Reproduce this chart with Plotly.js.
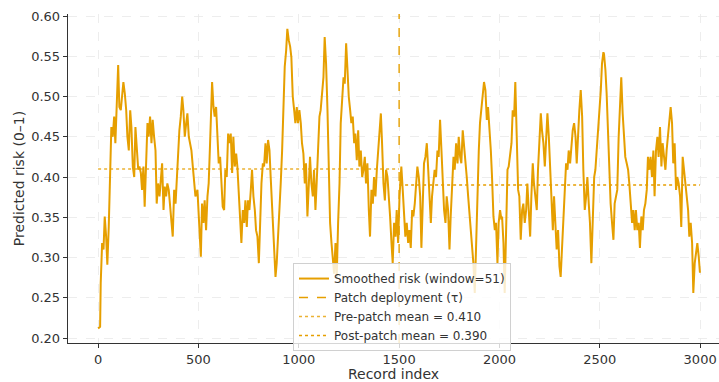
<!DOCTYPE html>
<html>
<head>
<meta charset="utf-8">
<script src="https://cdn.plot.ly/plotly-3.0.1.min.js"></script>
<style>html,body{margin:0;padding:0;background:#fff;}#chart{width:719px;height:382px;}</style>
</head>
<body>
<div id="chart"></div>
<script>
const recordIndex = [0,10,13,20,27,33,40,46,53,60,66,73,80,86,93,100,103,106,113,120,126,133,140,146,153,160,166,173,180,186,193,200,206,213,219,226,232,239,246,252,259,266,272,279,286,292,299,306,312,319,326,332,339,345,352,359,366,372,379,386,392,399,405,412,419,425,432,439,445,452,459,465,472,478,485,
495,502,508,512,518,525,531,538,545,551,558,565,568,575,581,588,595,601,608,614,621,628,634,641,648,654,661,668,674,681,688,694,701,708,714,721,728,734,741,747,754,761,767,774,781,787,794,801,807,814,821,827,834,840,847,854,860,867,874,880,884,890,897,904,910,917,924,930,937,943,950,957,963,970,977,983,990,
996,1003,1010,1016,1023,1030,1036,1043,1050,1056,1063,1070,1076,1083,1089,1096,1103,1109,1116,1123,1129,1136,1143,1149,1156,1163,1169,1176,1183,1189,1196,1203,1209,1216,1223,1229,1236,1242,1249,1256,1262,1269,1276,1282,1289,1296,1302,1309,1316,1322,1329,1335,1342,1349,1355,1362,1369,1375,1382,1389,1395,1402,1409,1415,1422,1429,1435,1442,1449,1455,1462,1468,1475,1482,1488,1495,1502,
1511,1518,1525,1531,1538,1545,1551,1558,1565,1571,1578,1585,1591,1598,1605,1611,1618,1624,1631,1638,1645,1651,1658,1664,1671,1677,1684,1691,1697,1704,1711,1717,1724,1731,1737,1744,1751,1757,1764,1771,1777,1784,1791,1797,1804,1810,1817,1824,1830,1837,1844,1850,1857,1864,1870,1877,1883,1890,1897,1903,1910,1917,1923,1930,1937,1943,1950,1957,1963,1970,1977,1983,1990,1996,2003,2010,
2013,2020,2026,2033,2040,2046,2053,2060,2066,2073,2079,2086,2093,2099,2106,2113,2119,2126,2133,2139,2146,2153,2159,2166,2172,2179,2186,2192,2199,2206,2212,2219,2226,2232,2239,2246,2252,2259,2266,2272,2279,2285,2292,2299,2305,2312,2319,2325,2332,2339,2345,2352,2359,2365,2372,2379,2385,2392,2398,2405,2412,2418,2425,2432,2438,2445,2451,2458,2465,2472,2478,2485,2491,2498,2505,2511,2518,
2521,2528,2534,2541,2548,2554,2561,2568,2574,2581,2587,2594,2601,2607,2614,2621,2627,2634,2641,2647,2654,2661,2667,2674,2680,2687,2694,2700,2707,2714,2720,2727,2734,2740,2747,2753,2760,2767,2773,2780,2787,2793,2800,2807,2813,2820,2827,2833,2840,2847,2853,2860,2866,2873,2880,2886,2893,2900,2906,2913,2920,2926,2933,2940,2946,2953,2960,2966,2973,2980,2986,2993,2999];

const smoothedRisk = [0.212,0.214,0.268,0.318,0.310,0.351,0.326,0.291,0.338,0.392,0.462,0.450,0.475,0.442,0.483,0.539,0.512,0.487,0.483,0.500,0.518,0.504,0.483,0.450,0.433,0.483,0.462,0.413,0.400,0.462,0.433,0.409,0.413,0.405,0.384,0.413,0.363,0.433,0.467,0.450,0.475,0.442,0.471,0.450,0.433,0.367,0.392,0.376,0.400,0.417,0.359,0.388,0.376,0.392,0.384,0.367,0.343,0.326,0.384,0.367,0.400,0.438,0.458,0.475,0.500,0.483,0.450,0.467,0.479,0.450,0.442,0.433,0.413,0.392,0.376,
0.384,0.343,0.318,0.301,0.367,0.343,0.371,0.334,0.376,0.392,0.442,0.483,0.518,0.487,0.475,0.487,0.450,0.417,0.425,0.392,0.363,0.359,0.409,0.400,0.454,0.442,0.454,0.405,0.450,0.413,0.429,0.413,0.380,0.351,0.318,0.359,0.343,0.371,0.338,0.371,0.359,0.384,0.409,0.376,0.359,0.334,0.326,0.293,0.343,0.392,0.417,0.413,0.442,0.417,0.446,0.433,0.400,0.359,0.326,0.285,0.276,0.293,0.326,0.351,0.392,0.433,0.483,0.537,0.557,0.584,0.570,0.562,0.549,0.500,0.483,0.467,0.487,
0.467,0.483,0.467,0.442,0.429,0.392,0.417,0.351,0.400,0.425,0.392,0.376,0.409,0.359,0.392,0.433,0.475,0.483,0.500,0.524,0.574,0.541,0.483,0.417,0.343,0.318,0.301,0.280,0.318,0.275,0.343,0.392,0.467,0.500,0.524,0.516,0.566,0.537,0.500,0.483,0.467,0.475,0.442,0.454,0.421,0.458,0.413,0.433,0.400,0.409,0.425,0.392,0.417,0.359,0.326,0.384,0.367,0.400,0.376,0.409,0.433,0.458,0.479,0.442,0.392,0.371,0.409,0.400,0.376,0.351,0.318,0.293,0.343,0.326,0.359,0.318,0.376,
0.413,0.384,0.359,0.326,0.343,0.318,0.334,0.312,0.359,0.351,0.367,0.392,0.413,0.400,0.376,0.312,0.367,0.417,0.425,0.442,0.409,0.367,0.343,0.376,0.392,0.409,0.400,0.433,0.425,0.471,0.433,0.392,0.359,0.343,0.376,0.359,0.310,0.351,0.392,0.425,0.409,0.442,0.417,0.450,0.425,0.417,0.458,0.433,0.417,0.400,0.376,0.359,0.334,0.318,0.293,0.256,0.310,0.392,0.433,0.467,0.483,0.500,0.518,0.508,0.471,0.487,0.462,0.433,0.400,0.351,0.334,0.343,0.293,0.343,0.359,0.347,
0.351,0.318,0.256,0.343,0.409,0.413,0.425,0.442,0.483,0.475,0.518,0.442,0.384,0.376,0.322,0.359,0.367,0.343,0.359,0.392,0.359,0.326,0.376,0.417,0.392,0.376,0.359,0.409,0.442,0.479,0.458,0.442,0.413,0.450,0.479,0.450,0.417,0.384,0.334,0.376,0.343,0.310,0.334,0.289,0.276,0.318,0.343,0.376,0.417,0.409,0.433,0.417,0.446,0.458,0.467,0.450,0.417,0.458,0.483,0.508,0.475,0.409,0.359,0.376,0.400,0.367,0.343,0.293,0.343,0.400,0.409,0.433,0.458,0.483,0.508,0.541,0.555,
0.553,0.533,0.504,0.450,0.413,0.367,0.343,0.322,0.367,0.376,0.384,0.450,0.483,0.524,0.479,0.442,0.425,0.417,0.409,0.392,0.367,0.343,0.359,0.334,0.359,0.334,0.343,0.312,0.351,0.334,0.359,0.367,0.384,0.425,0.409,0.425,0.400,0.433,0.376,0.433,0.450,0.425,0.462,0.413,0.442,0.429,0.409,0.433,0.450,0.475,0.487,0.467,0.417,0.442,0.384,0.400,0.392,0.376,0.338,0.425,0.409,0.392,0.376,0.359,0.326,0.343,0.318,0.256,0.293,0.310,0.318,0.301,0.281];

const patchIndex = 1500;          // tau
const preMean = 0.410;
const postMean = 0.390;
const preSpan = [0, 1499];
const postSpan = [1500, 2999];
const yRange = [0.1938, 0.6025];
const xRange = [-150, 3094];
const xTicks = [0, 500, 1000, 1500, 2000, 2500, 3000];
const yTicks = [0.20, 0.25, 0.30, 0.35, 0.40, 0.45, 0.50, 0.55, 0.60];

const orange = '#E69F00';

const traces = [
  {x: recordIndex, y: smoothedRisk, type: 'scatter', mode: 'lines',
   name: 'Smoothed risk (window=51)', line: {color: orange, width: 2}},
  {x: [patchIndex, patchIndex], y: yRange, type: 'scatter', mode: 'lines',
   name: 'Patch deployment (τ)', line: {color: orange, width: 1.4, dash: 'dash'}},
  {x: preSpan, y: [preMean, preMean], type: 'scatter', mode: 'lines',
   name: 'Pre-patch mean = 0.410', line: {color: orange, width: 1.4, dash: 'dot'}, opacity: 0.8},
  {x: postSpan, y: [postMean, postMean], type: 'scatter', mode: 'lines',
   name: 'Post-patch mean = 0.390', line: {color: orange, width: 1.4, dash: 'dot'}}
];

const axisCommon = {
  showline: true, linecolor: '#333', linewidth: 1.3,
  ticks: 'outside', ticklen: 4, tickwidth: 1, tickcolor: '#333',
  showgrid: true, gridcolor: '#e8e8e8', griddash: 'dash', gridwidth: 0.8,
  zeroline: false, tickfont: {size: 13, color: '#333'}
};

const layout = {
  width: 719, height: 382,
  margin: {l: 68, r: 0, t: 14, b: 39, pad: 0},
  paper_bgcolor: '#fff', plot_bgcolor: '#fff',
  font: {family: 'DejaVu Sans, sans-serif', color: '#333'},
  showlegend: true,
  xaxis: Object.assign({}, axisCommon, {
    range: xRange, tickvals: xTicks, ticktext: xTicks.map(String),
    title: {text: 'Record index', font: {size: 14, color: '#333'}, standoff: 4}
  }),
  yaxis: Object.assign({}, axisCommon, {
    range: yRange, tickvals: yTicks, ticktext: yTicks.map(v => v.toFixed(2)),
    title: {text: 'Predicted risk (0–1)', font: {size: 14, color: '#333'}, standoff: 3}
  }),
  legend: {
    x: 0.3456, y: 0.243, xanchor: 'left', yanchor: 'top',
    bgcolor: 'rgba(255,255,255,0.8)', bordercolor: '#d0d0d0', borderwidth: 1,
    font: {size: 12, color: '#333'}, tracegroupgap: 0, itemwidth: 30
  }
};

Plotly.newPlot('chart', traces, layout, {displayModeBar: false, staticPlot: true});
</script>
</body>
</html>
